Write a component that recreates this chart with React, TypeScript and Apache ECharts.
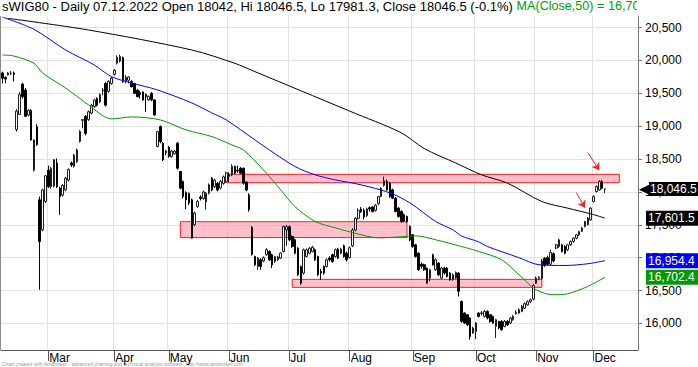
import React, { useEffect, useRef } from "react";
import * as echarts from "echarts";

const FONT = '"Liberation Sans", Arial, Helvetica, sans-serif';
const START_DATE = "2022-02-07";
const HOLIDAYS = ["2022-04-15", "2022-04-18", "2022-05-03", "2022-06-16", "2022-08-15", "2022-11-01", "2022-11-11", "2022-12-26"];
const EXTRA_SLOTS = 11;
const MONTHS = ["Jan", "Feb", "Mar", "Apr", "May", "Jun", "Jul", "Aug", "Sep", "Oct", "Nov", "Dec"];
const Y_TICKS = [16000, 16500, 17000, 17500, 18000, 18500, 19000, 19500, 20000, 20500];

const opens = [
  19810, 19740, 19780, 19800, 19810, 18950, 19180, 19640, 19550, 19170,
  19240, 18330, 18990, 17880, 17423, 17855, 18330, 18080, 18090, 18440,
  18060, 17950, 18030, 18180, 18440, 18390, 18460, 18770, 19090, 19150,
  19100, 19200, 19300, 19420, 19370, 19540, 19650, 19530, 19650, 19790,
  19960, 19990, 20040, 19680, 19700, 19680, 19650, 19550, 19510, 19520,
  19480, 19400, 19500, 19400, 18690, 18994, 18741, 18620, 18680, 18540,
  18580, 18741, 18311, 18160, 17990, 17980, 17880, 17500, 17780, 17920,
  17900, 17850, 17980, 18210, 18080, 18130, 18060, 18130, 18160, 18260,
  18260, 18390, 18330, 18360, 18360, 18150, 17950, 17460, 17018, 16866,
  16968, 16950, 17044, 17094, 17044, 16942, 16968, 16993, 17094, 17420,
  17470, 17322, 17272, 17145, 16866, 16765, 17018, 17069, 17094, 17120,
  17018, 16790, 16866, 16866, 16993, 17044, 17018, 17130, 17069, 17180,
  17069, 17000, 17180, 17420, 17600, 17740, 17720, 17640, 17760, 17770,
  17720, 17820, 17930, 18100, 18158, 18133, 18032, 17905, 17753, 17702,
  17652, 17626, 17474, 17348, 17196, 17069, 16900, 16892, 16840, 16689,
  17044, 16816, 16917, 16689, 16841, 16841, 16765, 16664, 16690, 16765,
  16334, 16157, 16132, 16081, 15853, 15878, 16157, 16150, 16106, 16182,
  16132, 16106, 15954, 16030, 16030, 15954, 16030, 16005, 16056, 16150,
  16157, 16182, 16230, 16280, 16330, 16370, 16610, 16680, 16680, 16990,
  17000, 16900, 17060, 17145, 17170, 17196, 17170, 17120, 17196, 17246,
  17297, 17348, 17400, 17474, 17500, 17576, 17854, 18006, 18032, 18158,
  18042,
];
const closes = [
  19730, 19720, 19810, 19805, 19790, 19230, 19480, 19450, 19150, 19240,
  18790, 18790, 18720, 17246, 18032, 18245, 18080, 18360, 18490, 18080,
  17930, 18100, 18210, 18340, 18410, 18560, 18640, 18920, 19100, 18890,
  19220, 19320, 19400, 19320, 19480, 19550, 19320, 19680, 19730, 19850,
  20050, 20060, 19680, 19740, 19750, 19600, 19500, 19450, 19480, 19400,
  19450, 19450, 19400, 19172, 18918, 18766, 18488, 18600, 18540, 18620,
  18620, 18361, 18057, 17930, 17880, 17830, 17297, 17680, 17855, 17900,
  18000, 17980, 18108, 18030, 18180, 18030, 18160, 18230, 18290, 18240,
  18390, 18285, 18320, 18285, 18133, 18030, 17730, 17050, 16891, 16993,
  16866, 17000, 17120, 16968, 16891, 17018, 17010, 17069, 17474, 17470,
  17272, 17170, 17069, 16740, 16613, 17120, 17120, 17145, 17160, 16968,
  16740, 16765, 16765, 16968, 16968, 16942, 17120, 16993, 17130, 17018,
  16968, 17150, 17420, 17600, 17720, 17700, 17620, 17740, 17740, 17700,
  17800, 17930, 18057, 18170, 18032, 17930, 17905, 17702, 17626, 17550,
  17560, 17550, 17272, 17170, 17018, 16816, 16870, 16816, 16613, 16816,
  16892, 16968, 16740, 16841, 16765, 16714, 16664, 16740, 16775, 16490,
  16030, 16005, 15980, 15802, 15929, 16005, 16106, 16160, 16182, 16081,
  16030, 16005, 16056, 15929, 15904, 16030, 15980, 16081, 16106, 16170,
  16208, 16258, 16300, 16330, 16360, 16575, 16690, 16700, 16950, 16880,
  16900, 17080, 16950, 17196, 17272, 17094, 17069, 17196, 17246, 17297,
  17348, 17398, 17449, 17550, 17601, 17753, 17930, 18082, 18158, 18057,
  18046.5,
];
const lows = [
  19650, 19655, 19770, 19780, 19680, 18918, 19170, 19420, 19140, 19150,
  18780, 18310, 18700, 16512, 17400, 17830, 18060, 18050, 18070, 18060,
  17650, 17930, 18010, 18160, 18380, 18370, 18440, 18750, 18970, 18860,
  19080, 19180, 19280, 19300, 19350, 19470, 19300, 19510, 19630, 19770,
  19940, 19970, 19660, 19650, 19650, 19590, 19490, 19440, 19420, 19390,
  19220, 19390, 19380, 19160, 18680, 18740, 18470, 18560, 18520, 18520,
  18570, 18340, 18040, 17900, 17740, 17800, 17290, 17480, 17760, 17870,
  17880, 17730, 17960, 18010, 18060, 18010, 18040, 18110, 18140, 18150,
  18240, 18270, 18290, 18270, 18110, 18010, 17700, 17030, 16870, 16816,
  16816, 16930, 17030, 16950, 16841, 16920, 16950, 16980, 17080, 17180,
  17250, 17150, 17050, 16720, 16588, 16740, 17000, 17050, 17080, 16950,
  16720, 16664, 16740, 16850, 16940, 16920, 17000, 16980, 17050, 17000,
  16940, 16990, 17160, 17400, 17580, 17680, 17580, 17620, 17700, 17690,
  17700, 17800, 17920, 18080, 18020, 17910, 17890, 17690, 17610, 17530,
  17540, 17530, 17250, 17150, 17000, 16800, 16830, 16800, 16600, 16638,
  16880, 16800, 16720, 16680, 16740, 16700, 16650, 16650, 16680, 16410,
  16010, 15990, 15960, 15752, 15840, 15760, 16090, 16120, 16090, 16060,
  16010, 15990, 15777, 15910, 15890, 15940, 15960, 15990, 16040, 16130,
  16140, 16170, 16220, 16270, 16310, 16350, 16600, 16660, 16660, 16860,
  16880, 16880, 16930, 17130, 17150, 17080, 17050, 17100, 17180, 17230,
  17280, 17330, 17390, 17460, 17490, 17560, 17840, 17990, 18020, 18040,
  17981.3,
];
const highs = [
  19830, 19760, 19825, 19840, 19830, 19260, 19520, 19660, 19580, 19260,
  19260, 18800, 19030, 17930, 18050, 18260, 18400, 18380, 18500, 18510,
  18080, 18120, 18230, 18360, 18460, 18580, 18660, 18940, 19110, 19170,
  19240, 19340, 19420, 19440, 19500, 19580, 19670, 19700, 19750, 19870,
  20080, 20090, 20060, 19780, 19760, 19700, 19660, 19560, 19540, 19530,
  19500, 19470, 19520, 19410, 18930, 19010, 18760, 18640, 18700, 18640,
  18640, 18760, 18320, 18170, 18010, 17990, 17900, 17700, 17880, 17950,
  18020, 18000, 18130, 18230, 18200, 18150, 18180, 18250, 18310, 18300,
  18420, 18400, 18400, 18380, 18370, 18160, 17980, 17480, 17030, 17010,
  16990, 17020, 17145, 17110, 17060, 17030, 17030, 17080, 17490, 17500,
  17490, 17340, 17290, 17160, 16880, 17140, 17140, 17160, 17180, 17140,
  17030, 16830, 16880, 16990, 17020, 17060, 17140, 17150, 17150, 17200,
  17090, 17170, 17450, 17620, 17750, 17770, 17750, 17760, 17780, 17780,
  17820, 17940, 18070, 18234, 18190, 18150, 18050, 17920, 17770, 17720,
  17670, 17640, 17490, 17360, 17210, 17080, 16930, 16910, 16850, 16830,
  17060, 16990, 16930, 16860, 16860, 16860, 16780, 16760, 16790, 16780,
  16350, 16170, 16140, 16090, 15950, 16020, 16170, 16190, 16200, 16200,
  16140, 16120, 16070, 16040, 16050, 16050, 16050, 16100, 16130, 16200,
  16230, 16280, 16320, 16350, 16380, 16600, 16714, 16720, 16980, 17010,
  17030, 17120, 17080, 17210, 17290, 17210, 17190, 17210, 17260, 17310,
  17360, 17410, 17470, 17560, 17620, 17770, 17950, 18100, 18180, 18180,
  18046.5,
];

const ma200Idx = [2, 30, 66, 81, 88, 104, 121, 139, 147, 158, 167, 176, 188, 197, 205, 210];
const ma200Val = [20641, 20464, 20160, 19957, 19830, 19540, 19230, 18900, 18660, 18440, 18260, 18134, 17854, 17753, 17667, 17601.5];
const ma100Idx = [0, 11, 22, 32, 38, 45, 54, 66, 73, 78, 88, 93, 102, 109, 116, 125, 135, 142, 151, 157, 160, 166, 169, 180, 187, 196, 204, 210];
const ma100Val = [20660, 20474, 20160, 19932, 19754, 19658, 19552, 19354, 19202, 19096, 18792, 18640, 18386, 18260, 18184, 18108, 17986, 17834, 17550, 17424, 17330, 17240, 17170, 17000, 16892, 16881, 16907, 16954.4];
const ma50Idx = [0, 4, 11, 14, 22, 30, 38, 45, 55, 64, 73, 80, 84, 91, 97, 102, 109, 116, 125, 131, 139, 144, 151, 160, 166, 174, 180, 186, 192, 197, 204, 210];
const ma50Val = [20084, 20068, 19957, 19810, 19582, 19324, 19111, 19141, 19096, 18944, 18842, 18714, 18638, 18334, 18030, 17775, 17550, 17454, 17348, 17302, 17317, 17332, 17272, 17170, 17094, 16968, 16740, 16512, 16436, 16451, 16562, 16702.4];

// Support / resistance zones
const zoneFrom = [78, 62, 101];
const zoneTo = [215, 141, 188];
const zoneTop = [18268, 17547, 16670];
const zoneBottom = [18140, 17306, 16548];

// Red annotation arrows
const arrowFromIdx = [204, 200];
const arrowFromVal = [18600, 17990];
const arrowToIdx = [208, 203];
const arrowToVal = [18330, 17760];

function tradingDays(start: string, count: number): string[] {
  const out: string[] = [];
  const d = new Date(start + "T00:00:00Z");
  while (out.length < count) {
    const wd = d.getUTCDay();
    const s = d.toISOString().slice(0, 10);
    if (wd !== 0 && wd !== 6 && HOLIDAYS.indexOf(s) < 0) out.push(s);
    d.setUTCDate(d.getUTCDate() + 1);
  }
  return out;
}

const dates = tradingDays(START_DATE, opens.length + EXTRA_SLOTS);
const isMonthStart = (i: number) => i > 0 && dates[i].slice(5, 7) !== dates[i - 1].slice(5, 7);

const fmt = (v: number, d: number) =>
  v.toLocaleString("en-US", { minimumFractionDigits: d, maximumFractionDigits: d });

const HIDDEN_LINE = { color: "rgba(0,0,0,0)", width: 1, type: "solid" };

export default function App() {
  const ref = useRef<HTMLDivElement>(null);
  useEffect(() => {
    const chart = echarts.init(ref.current!, undefined, { renderer: "svg" });
    const n = opens.length;
    const last = n - 1;
    const lastDate = dates[last];
    const dateTxt = `${lastDate.slice(8, 10)}.${lastDate.slice(5, 7)}.${lastDate.slice(0, 4)}`;
    const pct = ((closes[last] - closes[last - 1]) / closes[last - 1]) * 100;
    const titleMain = `sWIG80 - Daily ${dateTxt} Open ${opens[last]}, Hi ${highs[last]}, Lo ${lows[last]}, Close ${closes[last]} (${pct.toFixed(1)}%) `;
    const titleMa = `MA(Close,50) = ${fmt(ma50Val[ma50Val.length - 1], 1)}`;

    const candleData = opens.map((o, i) => [o, closes[i], lows[i], highs[i]]);
    const toPairs = (idx: number[], val: number[]) => idx.map((x, i) => [x, val[i]]);

    const endLabel = (value: number, bg: string) => ({
      silent: true,
      symbol: "none",
      lineStyle: HIDDEN_LINE,
      label: {
        show: true,
        position: "end",
        distance: 8,
        opacity: 1,
        formatter: () => fmt(value, 1),
        backgroundColor: bg,
        color: "#fff",
        fontSize: 12,
        fontFamily: FONT,
        padding: [1, 6, 1, 2],
        lineHeight: 13,
      },
      emphasis: { disabled: true },
      data: [{ yAxis: value }],
    });

    const option: any = {
      animation: false,
      grid: { left: 1, right: 60, top: 16, bottom: 17 },
      xAxis: {
        type: "category",
        data: dates,
        boundaryGap: true,
        axisLine: { lineStyle: { color: "#555", width: 1 } },
        axisTick: {
          show: true,
          alignWithLabel: true,
          interval: (i: number) => isMonthStart(i),
          length: 11,
          lineStyle: { color: "#555" },
        },
        axisLabel: {
          interval: (i: number) => isMonthStart(i),
          formatter: (v: string) => MONTHS[parseInt(v.slice(5, 7), 10) - 1],
          align: "left",
          margin: 2,
          padding: [0, 0, 0, 1],
          color: "#000",
          fontSize: 12,
          fontFamily: FONT,
        },
        splitLine: {
          show: true,
          interval: (i: number) => isMonthStart(i),
          lineStyle: { color: "#e3e3e3", width: 1 },
        },
      },
      yAxis: {
        type: "value",
        position: "right",
        min: 15595,
        max: 20677,
        axisLine: { show: true, lineStyle: { color: "#777" } },
        axisTick: { show: true, customValues: Y_TICKS, length: 4, lineStyle: { color: "#777" } },
        axisLabel: {
          customValues: Y_TICKS,
          formatter: (v: number) => fmt(v, 0),
          color: "#000",
          fontSize: 12,
          fontFamily: FONT,
          margin: 7,
        },
        splitLine: { show: true, lineStyle: { color: "#e3e3e3", width: 1 } },
      },
      series: [
        {
          type: "candlestick",
          name: "sWIG80",
          data: candleData,
          barWidth: "72%",
          itemStyle: {
            color: "#ffffff",
            color0: "#000000",
            borderColor: "#1e1e1e",
            borderColor0: "#000000",
            borderWidth: 1,
          },
          markArea: {
            silent: true,
            itemStyle: {
              color: "rgba(255,150,170,0.6)",
              borderColor: "#ff1a1a",
              borderWidth: 1,
            },
            data: zoneFrom.map((f, i) => [
              { coord: [f, zoneTop[i]] },
              { coord: [zoneTo[i], zoneBottom[i]] },
            ]),
          },
          markLine: {
            silent: true,
            symbol: ["none", "arrow"],
            symbolSize: 7,
            lineStyle: { color: "#ff2020", width: 1, type: "solid" },
            label: { show: false },
            data: arrowFromIdx.map((f, i) => [
              { coord: [f, arrowFromVal[i]] },
              { coord: [arrowToIdx[i], arrowToVal[i]] },
            ]),
          },
        },
        {
          type: "line",
          name: "MA200",
          data: toPairs(ma200Idx, ma200Val),
          smooth: 0.3,
          showSymbol: false,
          symbol: "none",
          lineStyle: { color: "#000000", width: 1 },
          markLine: endLabel(ma200Val[ma200Val.length - 1], "#000000"),
        },
        {
          type: "line",
          name: "MA100",
          data: toPairs(ma100Idx, ma100Val),
          smooth: 0.3,
          showSymbol: false,
          symbol: "none",
          lineStyle: { color: "#0000ff", width: 1 },
          markLine: endLabel(ma100Val[ma100Val.length - 1], "#0000ff"),
        },
        {
          type: "line",
          name: "MA50",
          data: toPairs(ma50Idx, ma50Val),
          smooth: 0.3,
          showSymbol: false,
          symbol: "none",
          lineStyle: { color: "#009900", width: 1 },
          markLine: endLabel(ma50Val[ma50Val.length - 1], "#009a00"),
        },
        {
          type: "line",
          name: "LastClose",
          data: [[last, closes[last]]],
          showSymbol: false,
          symbol: "none",
          lineStyle: { color: "rgba(0,0,0,0)" },
          markLine: {
            silent: true,
            symbol: "none",
            lineStyle: HIDDEN_LINE,
            emphasis: { disabled: true },
            label: {
              show: true,
              position: "end",
              distance: 1,
              opacity: 1,
              formatter: () => `{a|◀}{b|${fmt(closes[last], 1)}}`,
              rich: {
                a: { color: "#000", fontSize: 13, fontFamily: "DejaVu Sans", lineHeight: 14, padding: [0, 0, 0, 0] },
                b: {
                  color: "#fff",
                  backgroundColor: "#000",
                  fontSize: 12,
                  fontFamily: FONT,
                  padding: [1, 6, 1, 1],
                  lineHeight: 13,
                },
              },
            },
            data: [{ yAxis: closes[last] }],
          },
        },
      ],
      graphic: [
        {
          type: "line",
          silent: true,
          shape: { x1: 0.5, y1: 16, x2: 0.5, y2: 350 },
          style: { stroke: "#8a8a8a", lineWidth: 1 },
        },
        {
          type: "text",
          x: 2,
          y: 6,
          z: 50,
          silent: true,
          style: {
            text: `{k|${titleMain}}{g|${titleMa}}`,
            verticalAlign: "middle",
            rich: {
              k: { fill: "#000", fontSize: 13, fontFamily: FONT },
              g: { fill: "#00a000", fontSize: 12.6, fontFamily: FONT },
            },
          },
        },
        {
          type: "rect",
          z: 60,
          silent: true,
          shape: { x: 637, y: 0, width: 61, height: 15 },
          style: { fill: "#ffffff" },
        },
        {
          type: "text",
          x: 2,
          y: 364,
          silent: true,
          style: {
            text: "Chart created with AmiBroker - advanced charting and technical analysis software. http://www.amibroker.com",
            fill: "#9a9a9a",
            fontSize: 5,
            fontFamily: FONT,
            verticalAlign: "middle",
          },
        },
      ],
    };
    chart.setOption(option);
    return () => chart.dispose();
  }, []);
  return <div ref={ref} style={{ position: "absolute", left: 0, top: 0, width: 698, height: 367 }} />;
}
